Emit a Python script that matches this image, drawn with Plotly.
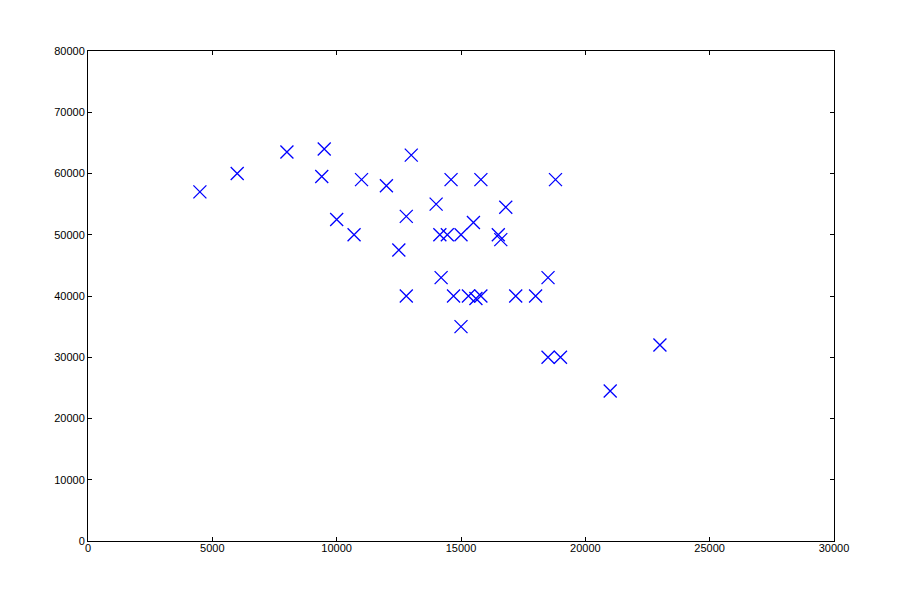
import plotly.graph_objects as go

# scatter values
x_vals = [4500, 6000, 8000, 9500, 9400, 10000, 11000, 10700, 12000, 12500,
          12800, 12800, 13000, 14000, 14150, 14450, 15000, 14200, 14600, 15000,
          14700, 15300, 15600, 15800, 15500, 15800, 16500, 16600, 16800, 17200,
          18000, 18500, 18800, 18500, 19000, 21000, 23000]
y_vals = [57000, 60000, 63500, 64000, 59500, 52500, 59000, 50000, 58000, 47500,
          53000, 40000, 63000, 55000, 50000, 50000, 50000, 43000, 59000, 35000,
          40000, 40000, 39600, 40000, 52000, 59000, 50000, 49200, 54500, 40000,
          40000, 43000, 59000, 30000, 30000, 24500, 32000]

x_ticks = [0, 5000, 10000, 15000, 20000, 25000, 30000]
y_ticks = [0, 10000, 20000, 30000, 40000, 50000, 60000, 70000, 80000]

fig = go.Figure()
fig.add_trace(go.Scatter(
    x=x_vals, y=y_vals, mode="markers",
    marker=dict(symbol="x-thin", size=13, color="#0000ff",
                line=dict(width=1.3, color="#0000ff")),
    showlegend=False,
))

axis_style = dict(
    showgrid=False, zeroline=False,
    showline=True, linecolor="black", linewidth=1, mirror="ticks",
    ticks="inside", ticklen=4, tickcolor="black", tickwidth=1,
    tickfont=dict(family="Liberation Sans, Arial", size=11, color="black"),
)

fig.update_xaxes(range=[0, 30000], tickvals=x_ticks,
                 ticktext=[str(v) for v in x_ticks],
                 ticklabelstandoff=-3, **axis_style)
fig.update_yaxes(range=[0, 80000], tickvals=y_ticks,
                 ticktext=[str(v) for v in y_ticks], **axis_style)

# the page puts the plot 8px in from the corner, so margins are shifted
fig.update_layout(
    width=900, height=600,
    margin=dict(l=80, r=74, t=43, b=67),
    paper_bgcolor="white", plot_bgcolor="white",
)

fig.write_html("out.html")
